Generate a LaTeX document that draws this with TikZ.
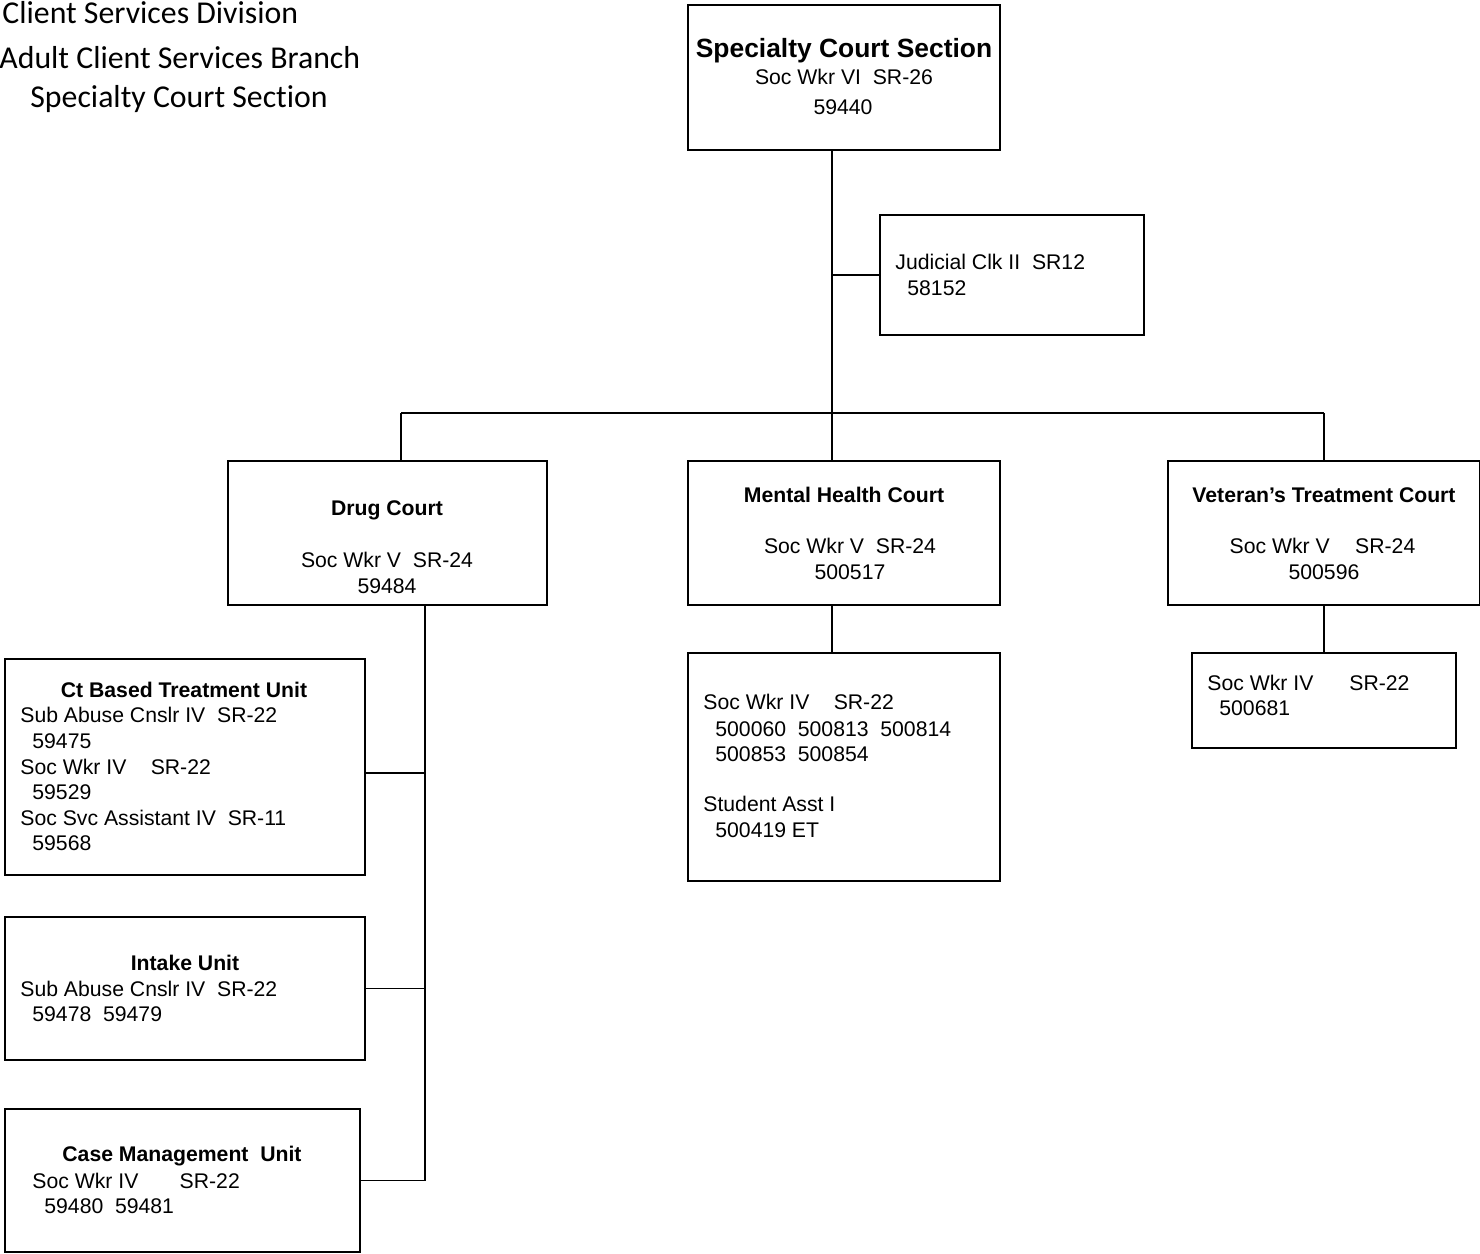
\documentclass[tikz,border=0pt]{standalone}
\usepackage{fontspec}
\setmainfont{Liberation Sans}
\newfontfamily\headfont[Ligatures=NoCommon]{Carlito}
\newcommand\boxfont{\fontsize{10.6}{12.7}\selectfont}
\newcommand\titlefont{\fontsize{13.2}{15.8}\selectfont\bfseries}
% one org-chart box, given by its corners (left, top, right, bottom)
\newcommand\orgbox[5]{%
  \node[box, minimum width={(#4-#2)*0.5pt}, minimum height={(#5-#3)*0.5pt}]
    (#1) at ({(#2+#4)/2},{(#3+#5)/2}) {};}
\begin{document}
\begin{tikzpicture}[x=0.5pt,y=-0.5pt,
  box/.style={draw, line width=0.95pt, inner sep=0pt, rectangle},
  txt/.style={inner sep=0pt, anchor=base west, font=\boxfont},
  ctxt/.style={inner sep=0pt, anchor=base, font=\boxfont},
  btxt/.style={ctxt, font=\boxfont\bfseries},
  head/.style={inner sep=0pt, anchor=base west, font=\headfont\fontsize{15.9}{19}\selectfont},
  wire/.style={line width=0.95pt}]
\useasboundingbox (0,0) rectangle (1480,1254);

% heading
\node[head] (h1) at (2,23) {Client Services Division};
\node[head] (h2) at (-1,68) {Adult Client Services Branch};
\node[head] (h3) at (30,107) {Specialty Court Section};

% boxes
\orgbox{top}{688}{5}{1000}{150}
\orgbox{clerk}{880}{215}{1144}{335}
\orgbox{drug}{228}{461}{547}{605}
\orgbox{mh}{688}{461}{1000}{605}
\orgbox{vet}{1168}{461}{1480}{605}
\orgbox{ct}{5}{659}{365}{875}
\orgbox{intake}{5}{917}{365}{1060}
\orgbox{cm}{5}{1109}{360}{1252}
\orgbox{mhs}{688}{653}{1000}{881}
\orgbox{vets}{1192}{653}{1456}{748}

% junction points
\coordinate (hub) at (832,413);
\coordinate (barL) at (401,413);
\coordinate (barR) at (1324,413);
\coordinate (spine) at (425,1180);
\coordinate (ctj) at (0,773);

% connectors
\draw[wire] (top.south -| hub) -- (hub);
\draw[wire] (hub |- clerk.west) -- (clerk.west);
\draw[wire] (barL) -- (barR);
\draw[wire] (barL) -- (barL |- drug.north);
\draw[wire] (hub) -- (hub |- mh.north);
\draw[wire] (barR) -- (vet.north);
\draw[wire] (drug.south -| spine) -- (spine |- cm.east) -- (cm.east);
\draw[wire] (ct.east |- ctj) -- (spine |- ctj);
\draw[wire] (intake.east) -- (spine |- intake.east);
\draw[wire] (mh.south -| hub) -- (hub |- mhs.north);
\draw[wire] (vet.south) -- (vets.north);

% section head
\node[ctxt, font=\titlefont] (topt) at (844,57) {Specialty Court Section};
\node[ctxt] (topa) at (844,84) {Soc Wkr VI\ \ SR-26};
\node[ctxt] (topb) at (843,114) {59440};

% clerk
\node[txt] (clka) at (895,269) {Judicial Clk II\ \ SR12};
\node[txt] (clkb) at (907,295) {58152};

% courts
\node[btxt] (drt) at (387,515.5) {Drug Court};
\node[ctxt] (dra) at (387,567.5) {Soc Wkr V\ \ SR-24};
\node[ctxt] (drb) at (387,593.5) {59484};

\node[btxt] (mht) at (844,502.5) {Mental Health Court};
\node[ctxt] (mha) at (850,553.5) {Soc Wkr V\ \ SR-24};
\node[ctxt] (mhb) at (850,579.5) {500517};

\node[btxt] (vtt) at (1324,502.5) {Veteran’s Treatment Court};
\node[ctxt] (vta) at (1322.5,553.5) {Soc Wkr V\hspace{1.2em}SR-24};
\node[ctxt] (vtb) at (1324,579.5) {500596};

% mental health staff
\node[txt] (mhsa) at (703,709.5) {Soc Wkr IV\hspace{1.15em}SR-22};
\node[txt] (mhsb) at (715,736.5) {500060\ \ 500813\ \ 500814};
\node[txt] (mhsc) at (715,761.5) {500853\ \ 500854};
\node[txt] (mhsd) at (703,811.5) {Student Asst I};
\node[txt] (mhse) at (715,837.5) {500419 ET};

% veteran staff
\node[txt] (vtsa) at (1207,690) {Soc Wkr IV\hspace{1.7em}SR-22};
\node[txt] (vtsb) at (1219,715) {500681};

% court based treatment unit
\node[btxt] (ctt) at (184,697) {Ct Based Treatment Unit};
\node[txt] (cta) at (20,722.5) {Sub Abuse Cnslr IV\ \ SR-22};
\node[txt] (ctb) at (32,748) {59475};
\node[txt] (ctc) at (20,774) {Soc Wkr IV\hspace{1.15em}SR-22};
\node[txt] (ctd) at (32,799.5) {59529};
\node[txt] (cte) at (20,825) {Soc Svc Assistant IV\ \ SR-11};
\node[txt] (ctf) at (32,850.5) {59568};

% intake unit
\node[btxt] (int) at (185,970.5) {Intake Unit};
\node[txt] (ina) at (20,996.5) {Sub Abuse Cnslr IV\ \ SR-22};
\node[txt] (inb) at (32,1021.5) {59478\ \ 59479};

% case management unit
\node[btxt] (cmt) at (182,1161) {Case Management\ \ Unit};
\node[txt] (cma) at (32,1188) {Soc Wkr IV\hspace{1.95em}SR-22};
\node[txt] (cmb) at (44,1213) {59480\ \ 59481};
\end{tikzpicture}
\end{document}
